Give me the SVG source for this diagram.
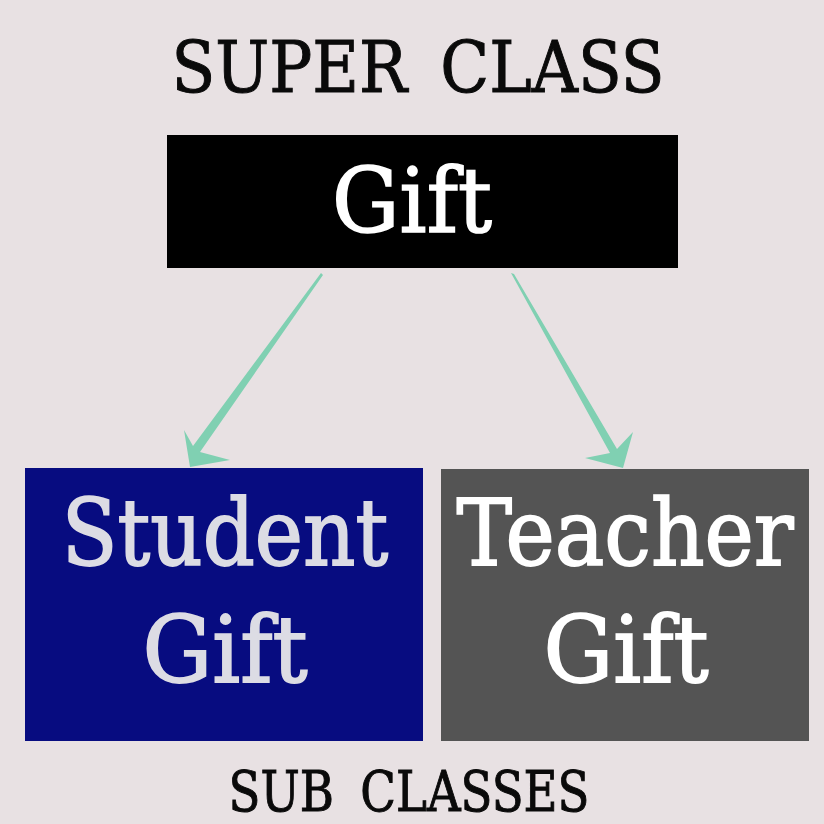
<svg xmlns="http://www.w3.org/2000/svg" width="824" height="824" viewBox="0 0 824 824">
<style>
text{font-family:"DejaVu Serif","Liberation Serif",serif;text-anchor:middle}
.title{fill:#0a0a0a;stroke:#0a0a0a;stroke-width:1}
.big{font-size:92px;stroke-width:1.8}
.arrow{fill:#80d0b2}
</style>
<rect width="824" height="824" fill="#e8e1e3"/>
<text class="title" x="418" y="92" font-size="71" word-spacing="14" textLength="493" lengthAdjust="spacingAndGlyphs">SUPER CLASS</text>
<g id="gift">
<rect x="167" y="135" width="511" height="133" fill="#000"/>
<text transform="translate(412,232) scale(0.95,1)" font-size="89" fill="#fff" stroke="#fff" stroke-width="1.6">Gift</text>
</g>
<g id="student-gift">
<rect x="25" y="468" width="398" height="273" fill="#070c80"/>
<text class="big" transform="translate(225,565) scale(0.885,1)" fill="#dcdce4" stroke="#dcdce4">Student</text>
<text class="big" transform="translate(225,682) scale(0.95,1)" fill="#dcdce4" stroke="#dcdce4">Gift</text>
</g>
<g id="teacher-gift">
<rect x="441" y="469" width="368" height="272" fill="#545454"/>
<text class="big" transform="translate(625,565) scale(0.905,1)" fill="#fff" stroke="#fff">Teacher</text>
<text class="big" transform="translate(626,682) scale(0.95,1)" fill="#fff" stroke="#fff">Gift</text>
</g>
<g id="connectors">
<polygon class="arrow" points="321,273 323,275 200,452 230,460 190,467 184,430 193,446"/>
<polygon class="arrow" points="511,273 514,274 617,449 633,432 623,468 585,458 610,453"/>
</g>
<text class="title" x="409" y="811" font-size="56" word-spacing="14" textLength="361" lengthAdjust="spacingAndGlyphs">SUB CLASSES</text>
</svg>
